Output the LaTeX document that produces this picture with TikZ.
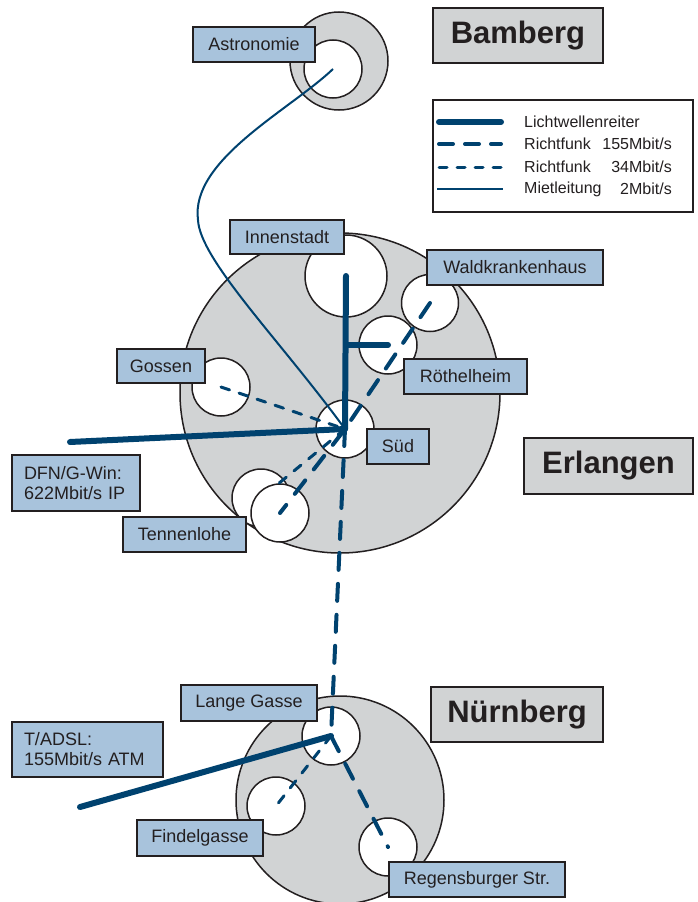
\documentclass[tikz,border=0pt]{standalone}
\usepackage{fontspec}
\setmainfont{Liberation Sans}
\definecolor{netblue}{HTML}{00426F}
\definecolor{lblblue}{HTML}{A8C3DC}
\definecolor{sitegray}{HTML}{D1D3D4}
\definecolor{edge}{HTML}{231F20}
\tikzset{
 site/.style={circle, draw=edge, line width=1.5pt, fill=sitegray, inner sep=0pt},
 bldg/.style={circle, draw=edge, line width=1.5pt, fill=white, inner sep=0pt},
 lbl/.style={draw=edge, line width=2pt, fill=lblblue, inner sep=0pt, text=edge, font=\fontsize{18}{20}\selectfont},
 city/.style={draw=edge, line width=2pt, fill=sitegray, inner sep=0pt, text=edge, font=\fontsize{31}{36}\selectfont\bfseries},
 lwl/.style={draw=netblue, line width=6pt, line cap=round},
 rfhigh/.style={draw=netblue, line width=4pt, line cap=round, dash pattern=on 17pt off 14pt},
 rflow/.style={draw=netblue, line width=3pt, line cap=round, dash pattern=on 9pt off 10pt},
 miet/.style={draw=netblue, line width=2pt},
 legtext/.style={inner sep=0pt, text=edge, font=\fontsize{16}{18}\selectfont},
 legbox/.style={draw=edge, line width=2pt, fill=white, inner sep=0pt},
}
\begin{document}
\begin{tikzpicture}[x=1pt,y=-1pt]
\useasboundingbox (0,0) rectangle (698,902);
% site circles
\node[site, minimum size=98pt] (bamC) at (339,61) {};
\node[site, minimum size=320pt] (erlC) at (340,393) {};
\node[site, minimum size=208pt] (nueC) at (340,800) {};
% building circles
\node[bldg, minimum size=58pt] (astro) at (333,69) {};
\node[bldg, minimum size=82pt] (innen) at (346,276) {};
\node[bldg, minimum size=57pt] (wald) at (430,303) {};
\node[bldg, minimum size=58pt] (roth) at (388,345) {};
\node[bldg, minimum size=58pt] (goss) at (221,387) {};
\node[bldg, minimum size=58pt] (sued) at (345,429) {};
\node[bldg, minimum size=58pt] (tennA) at (261,498) {};
\node[bldg, minimum size=58pt] (tennB) at (280,513) {};
\node[bldg, minimum size=58pt] (lange) at (331,736) {};
\node[bldg, minimum size=58pt] (findel) at (276,806) {};
\node[bldg, minimum size=58pt] (regens) at (388,847) {};
% free ends
\coordinate (dfnEnd) at (70,442);
\coordinate (adslEnd) at (80,807);
\coordinate (tennEnd) at (278,484);
% connections
\draw[miet] (astro.center) .. controls (290,110) and (190,160) .. (198,220)
  .. controls (200,260) and (280,340) .. (sued.center);
\draw[lwl] (innen.center) -- (sued.center);
\draw[lwl] (roth.center -| innen.center) -- (roth.center);
\draw[lwl] (dfnEnd) -- (sued.center);
\draw[rflow] (goss.center) -- (sued.center);
\draw[rflow] (sued.center) -- (tennEnd);
\draw[rfhigh] (wald.center) -- (sued.center) -- (tennB.center);
\draw[rfhigh] (sued.center) -- (lange.center);
\draw[lwl] (adslEnd) -- (lange.center);
\draw[rflow] (lange.center) -- (findel.center);
\draw[rfhigh] (lange.center) -- (regens.center);
% labels
\node[lbl, minimum width=122pt, minimum height=35pt] (astroL) at (254,44.5) {Astronomie};
\node[lbl, minimum width=114pt, minimum height=34pt] (innenL) at (287,237) {Innenstadt};
\node[lbl, minimum width=176pt, minimum height=35pt] (waldL) at (515,267.5) {Waldkrankenhaus};
\node[lbl, minimum width=123pt, minimum height=35pt] (rothL) at (465.5,376.5) {Röthelheim};
\node[lbl, minimum width=88pt, minimum height=34pt] (gossL) at (161,366) {Gossen};
\node[lbl, minimum width=62pt, minimum height=35pt] (suedL) at (398,446.5) {Süd};
\node[lbl, minimum width=123pt, minimum height=35pt] (tennL) at (184.5,534.5) {Tennenlohe};
\node[lbl, minimum width=136pt, minimum height=36pt] (langeL) at (249,703) {Lange Gasse};
\node[lbl, minimum width=126pt, minimum height=36pt] (findelL) at (200,838) {Findelgasse};
\node[lbl, minimum width=176pt, minimum height=35pt] (regensL) at (477,879.5) {Regensburger Str.};
\node[lbl, align=left, text width=104pt, inner xsep=12pt, minimum height=56pt] (dfnL) at (76,483) {DFN/G-Win:\\622Mbit/s IP};
\node[lbl, align=left, text width=127pt, inner xsep=12pt, minimum height=55pt] (adslL) at (87.5,749.5) {T/ADSL:\\155Mbit/s ATM};
% city labels
\node[city, minimum width=170pt, minimum height=55pt] (bamL) at (518,35.5) {Bamberg};
\node[city, minimum width=169pt, minimum height=56pt] (erlL) at (608.5,466) {Erlangen};
\node[city, minimum width=172pt, minimum height=55pt] (nueL) at (517,714.5) {Nürnberg};
% legend
\node[legbox, minimum width=260pt, minimum height=112pt] (legend) at (563,156) {};
\coordinate (la1) at (439,122); \coordinate (lb1) at (501,122);
\coordinate (la2) at (439,144); \coordinate (lb2) at (501,144);
\coordinate (la3) at (439,167); \coordinate (lb3) at (501,167);
\coordinate (la4) at (437,189); \coordinate (lb4) at (503,189);
\draw[lwl] (la1) -- (lb1);
\draw[rfhigh, dash pattern=on 14pt off 12pt] (la2) -- (lb2);
\draw[rflow, dash pattern=on 8pt off 10pt] (la3) -- (lb3);
\draw[miet] (la4) -- (lb4);
\node[legtext, anchor=west] (t1) at (524,122) {Lichtwellenreiter};
\node[legtext, anchor=west] (t2) at (524,144) {Richtfunk};
\node[legtext, anchor=east] (t2b) at (672,144) {155Mbit/s};
\node[legtext, anchor=west] (t3) at (524,167) {Richtfunk};
\node[legtext, anchor=east] (t3b) at (672,167) {34Mbit/s};
\node[legtext, anchor=west] (t4) at (524,189) {Mietleitung};
\node[legtext, anchor=east] (t4b) at (672,189) {2Mbit/s};
\end{tikzpicture}
\end{document}
